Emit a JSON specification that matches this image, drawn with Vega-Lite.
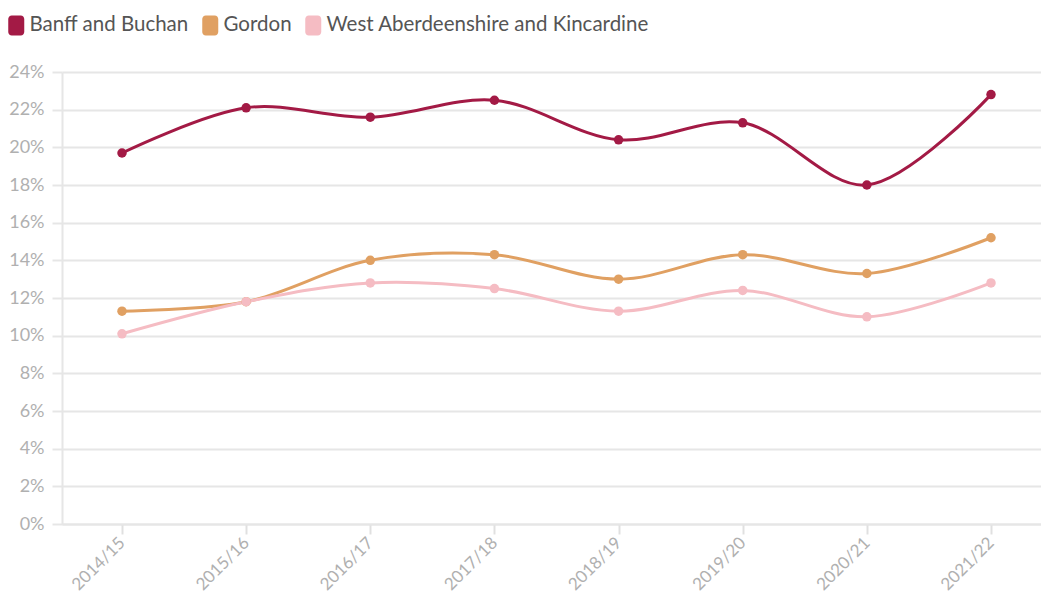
{
  "$schema": "https://vega.github.io/schema/vega-lite/v6.json",
  "width": 989,
  "height": 452,
  "autosize": {"type": "none"},
  "padding": {"left": 62, "top": 72, "right": -10, "bottom": 70},
  "background": "white",
  "config": {
    "font": "Lato",
    "view": {"stroke": null}
  },
  "data": {
    "values": [
      {"year": "2014/15", "area": "Banff and Buchan", "value": 19.7},
      {"year": "2015/16", "area": "Banff and Buchan", "value": 22.1},
      {"year": "2016/17", "area": "Banff and Buchan", "value": 21.6},
      {"year": "2017/18", "area": "Banff and Buchan", "value": 22.5},
      {"year": "2018/19", "area": "Banff and Buchan", "value": 20.4},
      {"year": "2019/20", "area": "Banff and Buchan", "value": 21.3},
      {"year": "2020/21", "area": "Banff and Buchan", "value": 18.0},
      {"year": "2021/22", "area": "Banff and Buchan", "value": 22.8},
      {"year": "2014/15", "area": "Gordon", "value": 11.3},
      {"year": "2015/16", "area": "Gordon", "value": 11.8},
      {"year": "2016/17", "area": "Gordon", "value": 14.0},
      {"year": "2017/18", "area": "Gordon", "value": 14.3},
      {"year": "2018/19", "area": "Gordon", "value": 13.0},
      {"year": "2019/20", "area": "Gordon", "value": 14.3},
      {"year": "2020/21", "area": "Gordon", "value": 13.3},
      {"year": "2021/22", "area": "Gordon", "value": 15.2},
      {"year": "2014/15", "area": "West Aberdeenshire and Kincardine", "value": 10.1},
      {"year": "2015/16", "area": "West Aberdeenshire and Kincardine", "value": 11.8},
      {"year": "2016/17", "area": "West Aberdeenshire and Kincardine", "value": 12.8},
      {"year": "2017/18", "area": "West Aberdeenshire and Kincardine", "value": 12.5},
      {"year": "2018/19", "area": "West Aberdeenshire and Kincardine", "value": 11.3},
      {"year": "2019/20", "area": "West Aberdeenshire and Kincardine", "value": 12.4},
      {"year": "2020/21", "area": "West Aberdeenshire and Kincardine", "value": 11.0},
      {"year": "2021/22", "area": "West Aberdeenshire and Kincardine", "value": 12.8}
    ]
  },
  "encoding": {
    "x": {
      "field": "year",
      "type": "ordinal",
      "scale": {"type": "point", "padding": 0.4833},
      "axis": {
        "title": null,
        "labelAngle": -45,
        "labelAlign": "right",
        "labelBaseline": "middle",
        "labelFontSize": 17,
        "labelColor": "#b0b0b0",
        "labelPadding": 6,
        "labelDx": 2,
        "labelDy": 8,
        "domainColor": "#e6e6e6",
        "domainWidth": 2,
        "tickColor": "#e0e0e0",
        "tickSize": 10,
        "tickWidth": 2,
        "grid": false
      }
    },
    "y": {
      "field": "value",
      "type": "quantitative",
      "scale": {"domain": [0, 24], "nice": false},
      "axis": {
        "title": null,
        "values": [0, 2, 4, 6, 8, 10, 12, 14, 16, 18, 20, 22, 24],
        "labelExpr": "datum.value + '%'",
        "labelFontSize": 18,
        "labelColor": "#b0b0b0",
        "labelPadding": 8,
        "domainColor": "#e6e6e6",
        "domainWidth": 2,
        "tickColor": "#e6e6e6",
        "tickSize": 10,
        "tickWidth": 2,
        "gridColor": "#e6e6e6",
        "gridWidth": 2
      }
    },
    "color": {
      "field": "area",
      "type": "nominal",
      "scale": {
        "domain": ["Banff and Buchan", "Gordon", "West Aberdeenshire and Kincardine"],
        "range": ["#a31a45", "#e0a062", "#f5bcc3"]
      },
      "legend": {
        "title": null,
        "orient": "none",
        "legendX": -56,
        "legendY": -57,
        "direction": "horizontal",
        "labelFontSize": 20.5,
        "labelColor": "#555555",
        "labelLimit": 500,
        "symbolType": "M-0.45,-1H0.45A0.35,0.35 0 0 1 0.8,-0.65V0.65A0.35,0.35 0 0 1 0.45,1H-0.45A0.35,0.35 0 0 1 -0.8,0.65V-0.65A0.35,0.35 0 0 1 -0.45,-1Z",
        "symbolSize": 400,
        "symbolOpacity": 1,
        "symbolStrokeWidth": 0,
        "columnPadding": 11,
        "labelOffset": 3
      }
    }
  },
  "layer": [
    {
      "mark": {"type": "line", "interpolate": "catmull-rom", "strokeWidth": 3}
    },
    {
      "mark": {"type": "circle", "size": 90, "opacity": 1}
    }
  ]
}
